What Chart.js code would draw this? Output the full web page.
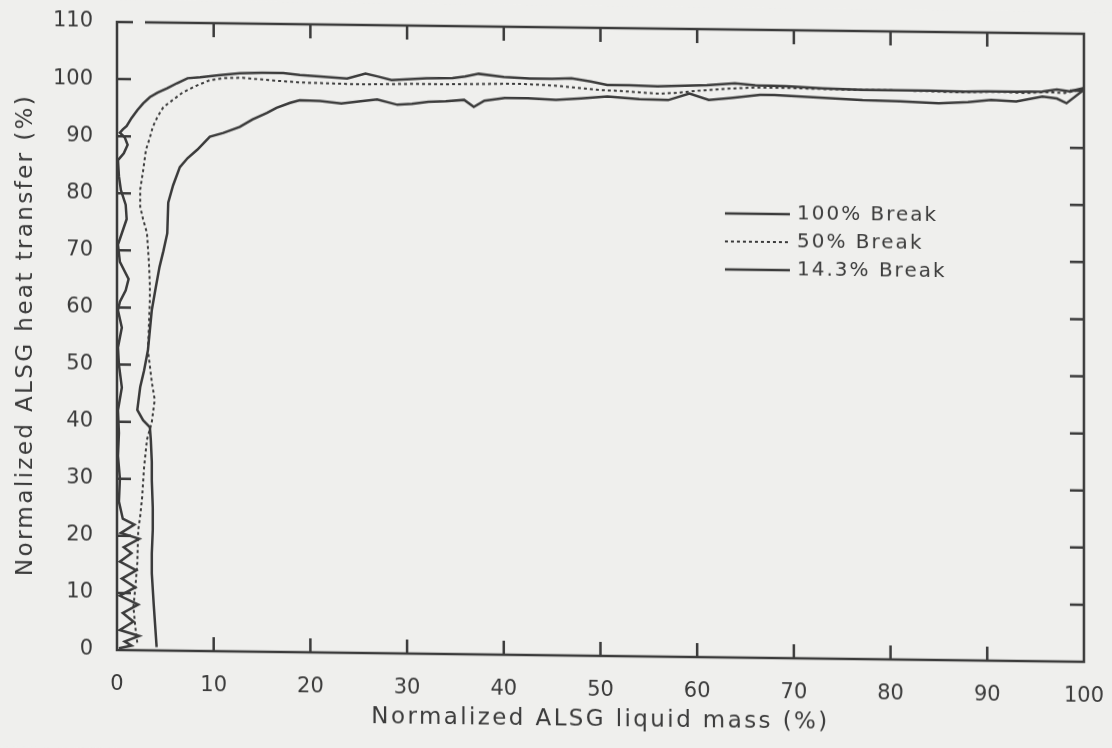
<!DOCTYPE html>
<html>
<head>
<meta charset="utf-8">
<script src="https://cdn.jsdelivr.net/npm/chart.js@4.4.1/dist/chart.umd.min.js"></script>
<style>
  html, body { margin: 0; padding: 0; background: #efefed; overflow: hidden; }
  /* the scanned original is slightly sheared: right side sits ~12px lower */
  canvas { display: block; transform: skewY(0.7deg); transform-origin: 117px 650px; }
</style>
</head>
<body>
<canvas id="chart" width="1112" height="748"></canvas>
<script>
const PAPER = '#efefed';
const INK = '#3b3b3b';

const SERIES_LABELS = ['100% Break', '50% Break', '14.3% Break'];

// 100% break — traced from right (full liquid mass) to left
const X_100 = [
  100, 98.5, 97.2, 95.7, 93, 90, 87.7, 84, 80, 77.1,
  73, 69.2, 66, 63.9, 61, 58, 55.9, 53, 50.7, 49,
  47, 45, 42.7, 40, 37.4, 36, 34.7, 32, 30, 28.4,
  27, 25.7, 23.8, 21, 18.9, 17.2, 15, 12.7, 10.5, 8.6,
  7.3, 6.2, 5.2, 4.2, 3.4, 2.7, 2.1, 1.5, 1, 0.6,
  0.3, 0.8, 1.1, 0.7, 0.1, 0.2, 0.4, 0.9, 1.0, 0.5,
  0.1, 0.3, 1.2, 0.9, 0.3, 0.1, 0.5, 0.1, 0.2, 0.5,
  0.1, 0.2, 0.1, 0.3, 0.2, 0.6, 1.8, 0.4, 2.3, 0.7,
  1.5, 0.3, 2.0, 0.5, 1.9, 0.3, 2.2, 0.6, 1.7, 0.3,
  2.3, 0.8, 1.5, 0.2
];
const Y_100 = [
  100.5, 99.9, 100.2, 99.8, 99.7, 99.7, 99.6, 99.7, 99.7, 99.7,
  99.9, 100.2, 100.3, 100.6, 100.2, 100, 99.9, 100, 100, 100.6,
  101.1, 101, 101, 101.2, 101.7, 101.2, 100.9, 100.8, 100.6, 100.4,
  101, 101.5, 100.6, 100.9, 101.1, 101.4, 101.4, 101.3, 100.9, 100.5,
  100.3, 99.4, 98.5, 97.7, 96.9, 95.8, 94.6, 93.2, 91.8, 91.2,
  90.6, 89.8, 88.5, 87, 85.8, 83, 80.6, 78, 75.5, 73,
  71, 68, 65, 63, 61, 59.5, 56.5, 53, 50, 46,
  42, 38, 34, 30, 26, 23, 22, 20.5, 19.5, 18,
  17, 15.5, 14, 12.5, 11, 9.5, 8, 6.5, 5, 3.5,
  2.5, 1.5, 0.8, 0.3
];

// 50% break
const X_50 = [
  100, 98, 96, 94, 92, 90, 87, 84, 80, 76,
  72, 69, 66, 63, 60, 58, 56, 54, 52, 50,
  48, 46, 44, 42, 40, 37, 34, 31, 28, 25,
  22, 19, 16, 13, 11, 9.6, 8.2, 6.8, 5.8, 4.8,
  4.2, 3.7, 3.4, 3.0, 2.7, 2.4, 2.4, 2.7, 3.1, 3.3,
  3.4, 3.4, 3.3, 3.2, 3.6, 3.9, 3.6, 3.1, 2.8, 2.6,
  2.4, 2.2, 2.1, 1.9, 1.7, 1.9, 2.1
];
const Y_50 = [
  100.3, 99.6, 99.7, 99.5, 99.6, 99.6, 99.5, 99.6, 99.7, 99.7,
  99.8, 99.9, 99.9, 99.6, 99.2, 98.8, 98.6, 98.8, 99.0, 99.1,
  99.4, 99.7, 99.9, 100.0, 100.0, 99.9, 99.8, 99.8, 99.7, 99.6,
  99.7, 99.8, 100.1, 100.5, 100.4, 100.0, 99.0, 97.8, 96.5, 95.2,
  93.5, 91.7, 89.8, 87.7, 84, 80.7, 77.7, 75.5, 73.1, 68,
  64, 61.4, 57, 52.6, 47, 43.9, 40, 36.9, 32, 26.8,
  23.5, 21.1, 15.3, 11, 7.6, 4, 1.3
];

// 14.3% break
const X_143 = [
  100, 98.2, 97.2, 95.7, 93, 90.4, 88, 85, 81, 77.1,
  72, 68, 66.5, 63.5, 61.2, 59.2, 57, 54, 50.7, 48,
  45.4, 42.5, 40.1, 38, 36.9, 35.9, 34, 32.2, 30.5, 29,
  26.9, 25, 23.2, 21, 18.9, 17.9, 16.5, 15.5, 14, 12.7,
  11, 9.6, 8.3, 7.3, 6.5, 5.8, 5.3, 5.2, 4.8, 4.4,
  4.0, 3.6, 3.2, 2.8, 2.4, 2.1, 2.7, 3.4, 3.5, 3.6,
  3.6, 3.7, 3.7, 3.6, 3.6, 3.8, 4.1
];
const Y_143 = [
  100.2, 97.8, 98.6, 98.9, 98.0, 98.2, 97.8, 97.5, 97.8, 97.9,
  98.3, 98.6, 98.6, 98.0, 97.6, 98.7, 97.5, 97.6, 98.0, 97.6,
  97.3, 97.5, 97.5, 97.0, 95.9, 97.1, 96.8, 96.7, 96.3, 96.1,
  97.0, 96.6, 96.2, 96.6, 96.7, 96.2, 95.3, 94.4, 93.2, 91.9,
  90.8, 90.1, 87.8, 86.3, 84.7, 81.5, 78.5, 73.1, 70, 67.2,
  63.5, 59.6, 52.6, 49, 46.1, 42.1, 40.3, 39.1, 36.8, 33,
  29.8, 25, 21.1, 17, 13.5, 8, 0.6
];

const X_TICKS = [10, 20, 30, 40, 50, 60, 70, 80, 90];
const Y_TICKS = [10, 20, 30, 40, 50, 60, 70, 80, 90, 100];

const toPoints = (xs, ys) => xs.map((x, i) => ({ x, y: ys[i] }));

/* paper background, boxed frame with inward ticks, and the in-plot legend */
const paperPlugin = {
  id: 'paper',
  beforeDraw(chart) {
    const ctx = chart.ctx;
    ctx.save();
    ctx.fillStyle = PAPER;
    ctx.fillRect(0, 0, chart.width, chart.height);
    ctx.restore();
    ctx.letterSpacing = '2.4px';   // wide lettering of the axis titles
  },
  beforeDatasetsDraw(chart) {
    chart.ctx.letterSpacing = '0px';
  },
  afterDraw(chart) {
    const ctx = chart.ctx;
    const { left, right, top, bottom } = chart.chartArea;
    const xs = chart.scales.x, ys = chart.scales.y;
    ctx.save();
    ctx.strokeStyle = INK;
    ctx.lineWidth = 2.5;
    ctx.beginPath();
    ctx.moveTo(left + 16, top); ctx.lineTo(left, top);
    ctx.lineTo(left, bottom); ctx.lineTo(right, bottom);
    ctx.lineTo(right, top); ctx.lineTo(left + 28, top);
    const tl = 14;
    X_TICKS.forEach(v => {
      const px = xs.getPixelForValue(v);
      ctx.moveTo(px, bottom); ctx.lineTo(px, bottom - tl);
      ctx.moveTo(px, top); ctx.lineTo(px, top + tl);
    });
    Y_TICKS.forEach(v => {
      const py = ys.getPixelForValue(v);
      ctx.moveTo(left, py); ctx.lineTo(left + tl, py);
      ctx.moveTo(right, py); ctx.lineTo(right - tl, py);
    });
    ctx.stroke();

    // legend
    ctx.font = '20px "DejaVu Sans"';
    ctx.letterSpacing = '2px';
    ctx.fillStyle = INK;
    ctx.textBaseline = 'middle';
    ctx.textAlign = 'left';
    chart.data.datasets.forEach((ds, i) => {
      const y = 206 + i * 28;
      ctx.strokeStyle = ds.borderColor;
      ctx.lineWidth = ds.borderWidth;
      ctx.setLineDash(ds.borderDash || []);
      ctx.beginPath();
      ctx.moveTo(725, y); ctx.lineTo(790, y);
      ctx.stroke();
      ctx.setLineDash([]);
      ctx.fillText(ds.label, 797, y);
    });
    ctx.letterSpacing = '0px';
    ctx.restore();
  }
};

new Chart(document.getElementById('chart'), {
  type: 'line',
  data: {
    datasets: [
      { label: SERIES_LABELS[0], data: toPoints(X_100, Y_100), borderColor: INK, borderWidth: 2.5 },
      { label: SERIES_LABELS[1], data: toPoints(X_50, Y_50), borderColor: INK, borderWidth: 2, borderDash: [3, 3] },
      { label: SERIES_LABELS[2], data: toPoints(X_143, Y_143), borderColor: INK, borderWidth: 2.5 }
    ]
  },
  options: {
    responsive: false,
    animation: false,
    layout: { padding: { top: 22, right: 28, left: 0, bottom: 0 } },
    elements: { point: { radius: 0 }, line: { tension: 0 } },
    scales: {
      x: {
        type: 'linear', min: 0, max: 100,
        afterFit: s => { s.height = 98; s.paddingLeft = 0; s.paddingRight = 0; },
        grid: { display: false }, border: { display: false },
        ticks: { stepSize: 10, padding: 14, z: 1, color: INK, font: { size: 21, family: 'DejaVu Sans' } },
        title: { display: true, text: 'Normalized ALSG liquid mass (%)', color: INK,
                 font: { size: 23, family: 'DejaVu Sans' }, padding: { top: 0, bottom: 20 } }
      },
      y: {
        min: 0, max: 110,
        afterFit: s => { s.width = 117; s.paddingTop = 0; s.paddingBottom = 0; },
        grid: { display: false }, border: { display: false },
        ticks: { stepSize: 10, padding: 16, z: 1, color: INK, font: { size: 21, family: 'DejaVu Sans' } },
        title: { display: true, text: 'Normalized ALSG heat transfer (%)', color: INK,
                 font: { size: 23, family: 'DejaVu Sans' }, padding: { top: 12, bottom: 0 } }
      }
    },
    plugins: {
      legend: { display: false },
      tooltip: { enabled: false }
    }
  },
  plugins: [paperPlugin]
});
</script>
</body>
</html>
